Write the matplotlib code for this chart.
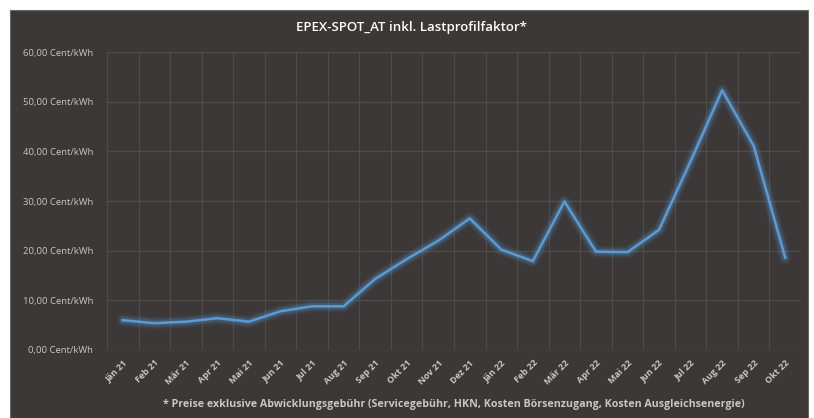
import matplotlib
matplotlib.use("Agg")
import matplotlib.pyplot as plt
from matplotlib.patches import Rectangle
import numpy as np

# monthly values (Cent/kWh)
months = ["Jän 21", "Feb 21", "Mär 21", "Apr 21", "Mai 21", "Jun 21", "Jul 21",
          "Aug 21", "Sep 21", "Okt 21", "Nov 21", "Dez 21", "Jän 22", "Feb 22",
          "Mär 22", "Apr 22", "Mai 22", "Jun 22", "Jul 22", "Aug 22", "Sep 22", "Okt 22"]
prices = [6.0, 5.4, 5.7, 6.4, 5.7, 7.8, 8.8, 8.8, 14.3, 18.3, 22.0, 26.5,
          20.2, 17.9, 29.9, 19.8, 19.7, 24.2, 38.0, 52.3, 41.1, 18.6]
y_ticks = [0, 10, 20, 30, 40, 50, 60]

bg = "#3b3837"
grid_col = "#4f4c4a"
txt_col = "#c9c7c5"
line_col = "#5b9bd5"

plt.rcParams["font.family"] = ["Open Sans", "DejaVu Sans"]

fig = plt.figure(figsize=(8.14, 4.18), dpi=100)
fig.patch.set_facecolor("white")
fig.patches.append(Rectangle((10 / 814, 0), 798 / 814, 408 / 418,
                             transform=fig.transFigure, facecolor=bg,
                             edgecolor="#6b6866", linewidth=0.8, zorder=-5))

ax = fig.add_axes([107 / 814, 1 - 350 / 418, 694 / 814, 298 / 418])
ax.set_facecolor(bg)
x = np.arange(len(months))

# glow
for lw, a in [(9, 0.08), (6.5, 0.12), (4.5, 0.18)]:
    ax.plot(x, prices, color=line_col, lw=lw, alpha=a, solid_joinstyle="round",
            solid_capstyle="round", zorder=2)
ax.plot(x, prices, color=line_col, lw=1.8, zorder=3)

ax.set_xlim(-0.5, len(months) - 0.5)
ax.set_ylim(0, 60)
ax.set_yticks(y_ticks)
ax.set_yticklabels([f"{v:.2f}".replace(".", ",") + " Cent/kWh" for v in y_ticks],
                   fontsize=6.8, color=txt_col)
ax.set_xticks(x)
ax.set_xticklabels(months, rotation=45, ha="right", rotation_mode="anchor",
                   fontsize=6.5, color=txt_col, fontweight="bold")
ax.set_xticks(np.arange(-0.5, len(months), 1), minor=True)
ax.tick_params(axis="both", which="both", length=0)
ax.tick_params(axis="y", pad=10)
ax.tick_params(axis="x", pad=6)
ax.grid(True, axis="y", which="major", color=grid_col, lw=1)
ax.grid(True, axis="x", which="minor", color=grid_col, lw=0.8)
ax.set_axisbelow(True)
for s in ax.spines.values():
    s.set_visible(False)

fig.text(0.505, 1 - 27 / 418, "EPEX-SPOT_AT inkl. Lastprofilfaktor*", ha="center",
         va="center", color="white", fontsize=9.5, fontweight="semibold")
fig.text(0.558, 1 - 405 / 418,
         "* Preise exklusive Abwicklungsgebühr (Servicegebühr, HKN, Kosten Börsenzugang, Kosten Ausgleichsenergie)",
         ha="center", va="center", color=txt_col, fontsize=7.7, fontweight="bold")

fig.savefig("out.png", dpi=100, facecolor=fig.get_facecolor())
